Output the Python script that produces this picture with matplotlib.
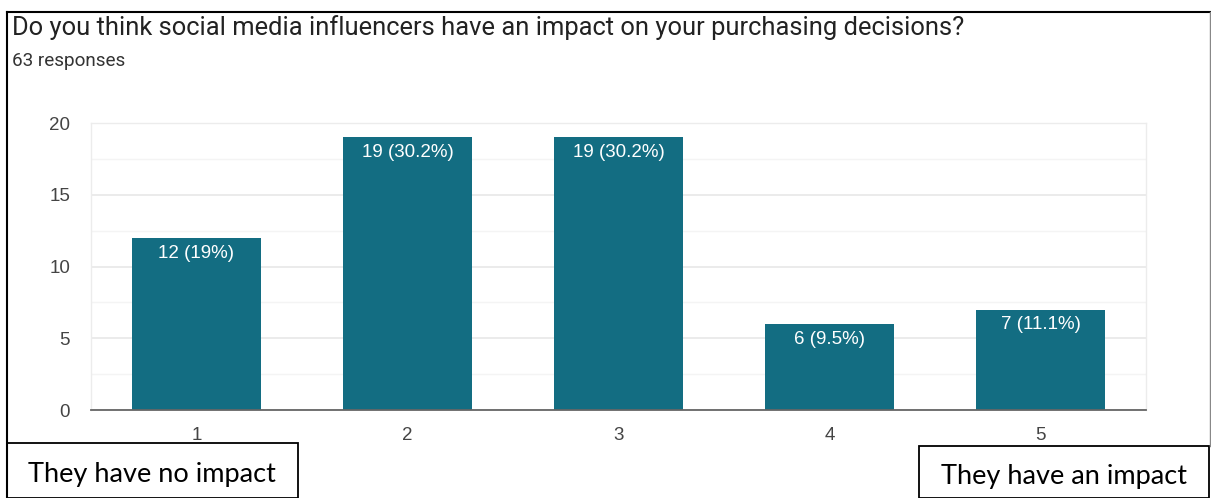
import matplotlib
matplotlib.use("Agg")
import matplotlib.pyplot as plt
from matplotlib.patches import Rectangle
from matplotlib.lines import Line2D

categories = ["1", "2", "3", "4", "5"]
counts = [12, 19, 19, 6, 7]
percents = ["19%", "30.2%", "30.2%", "9.5%", "11.1%"]
y_ticks = [0, 5, 10, 15, 20]
title = "Do you think social media influencers have an impact on your purchasing decisions?"
subtitle = "63 responses"
low_label = "They have no impact"
high_label = "They have an impact"

W, H = 1211, 498
fig = plt.figure(figsize=(W / 100, H / 100), dpi=100)
fig.patch.set_facecolor("white")


def fx(px):
    return px / W


def fy(py):
    return 1 - py / H


# chart area
ax = fig.add_axes([fx(91), fy(410), fx(1146) - fx(91), fy(123) - fy(410)])
x = list(range(len(categories)))
bars = ax.bar(x, counts, width=0.61, color="#136d82", zorder=3)
ax.set_xlim(-0.5, len(categories) - 0.5)
ax.set_ylim(0, 20)

for xi, c, p in zip(x, counts, percents):
    ax.annotate(f"{c} ({p})", (xi, c), xytext=(0, -5), textcoords="offset points",
                ha="center", va="top", color="white", fontsize=13.5,
                family="Liberation Sans", zorder=4)

ax.set_yticks(y_ticks)
ax.set_yticks([2.5, 7.5, 12.5, 17.5], minor=True)
ax.set_xticks(x)
ax.set_xticklabels(categories)
ax.grid(axis="y", which="major", color="#e8e8e8", lw=1.2, zorder=0)
ax.grid(axis="y", which="minor", color="#f4f4f4", lw=1.0, zorder=0)
ax.tick_params(axis="both", which="both", length=0, labelsize=13.5,
               labelcolor="#444444", labelfontfamily="Liberation Sans")
ax.tick_params(axis="y", pad=15)
ax.tick_params(axis="x", pad=12)
for side in ["top", "left", "right"]:
    ax.spines[side].set_color("#ececec")
    ax.spines[side].set_linewidth(1.0)
ax.spines["bottom"].set_color("#666666")
ax.spines["bottom"].set_linewidth(1.3)
ax.spines["bottom"].set_zorder(5)

# heading
fig.text(fx(12), fy(28), title, ha="left", va="center", fontsize=18.4,
         family="Roboto", color="#222222")
fig.text(fx(12), fy(61), subtitle, ha="left", va="center", fontsize=13.6,
         family="Roboto", color="#333333")

# outer frame
fig.add_artist(Line2D([fx(7), fx(1211)], [fy(12.5), fy(12.5)], color="black", lw=1.5))
fig.add_artist(Line2D([fx(7), fx(7)], [fy(12.5), fy(498)], color="black", lw=1.5))
fig.add_artist(Line2D([fx(1210), fx(1210)], [fy(12.5), fy(446)], color="#888888", lw=1.0))

# scale end labels
for (x0, y0, x1), label in [((7, 443, 297.5), low_label), ((919, 446, 1209), high_label)]:
    fig.add_artist(Rectangle((fx(x0), 0), fx(x1) - fx(x0), fy(y0),
                             facecolor="white", edgecolor="black", lw=1.3,
                             transform=fig.transFigure))
    fig.text(fx((x0 + x1) / 2), fy((y0 + 498) / 2 + 4), label, ha="center", va="center",
             fontsize=19.5, family="Lato", color="black")

fig.savefig("out.png", dpi=100)
